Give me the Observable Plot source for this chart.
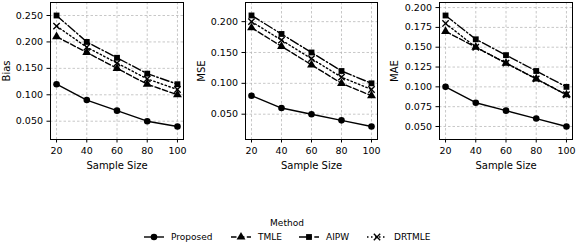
<!DOCTYPE html>
<html>
<head>
<meta charset="utf-8">
<script src="https://cdn.jsdelivr.net/npm/d3@7"></script>
<script src="https://cdn.jsdelivr.net/npm/@observablehq/plot@0.6"></script>
<style>
  html, body { margin: 0; padding: 0; background: white; }
  #wrap { position: relative; width: 576px; height: 247px; overflow: hidden; font-family: "DejaVu Sans", sans-serif; }
  #wrap svg { position: absolute; top: 0; }
  g[aria-label="x-axis label"] text, g[aria-label="y-axis label"] text { font-size: 10px; }
</style>
</head>
<body>
<div id="wrap"></div>
<script>
// ---- data ----
const sampleSizes = [20, 40, 60, 80, 100];
const methods = ["Proposed", "TMLE", "AIPW", "DRTMLE"];

const biasProposed = [0.12, 0.09, 0.07, 0.05, 0.04];
const biasTMLE     = [0.21, 0.18, 0.15, 0.12, 0.10];
const biasAIPW     = [0.25, 0.20, 0.17, 0.14, 0.12];
const biasDRTMLE   = [0.23, 0.19, 0.16, 0.13, 0.11];

const mseProposed = [0.08, 0.06, 0.05, 0.04, 0.03];
const mseTMLE     = [0.19, 0.16, 0.13, 0.10, 0.08];
const mseAIPW     = [0.21, 0.18, 0.15, 0.12, 0.10];
const mseDRTMLE   = [0.20, 0.17, 0.14, 0.11, 0.09];

const maeProposed = [0.10, 0.08, 0.07, 0.06, 0.05];
const maeTMLE     = [0.17, 0.15, 0.13, 0.11, 0.09];
const maeAIPW     = [0.19, 0.16, 0.14, 0.12, 0.10];
const maeDRTMLE   = [0.18, 0.15, 0.13, 0.11, 0.09];

const biasTicks = [0.05, 0.10, 0.15, 0.20, 0.25];
const mseTicks  = [0.05, 0.10, 0.15, 0.20];
const maeTicks  = [0.05, 0.075, 0.10, 0.125, 0.15, 0.175, 0.20];

// ---- styles ----
const dash = {Proposed: null, TMLE: "5.5,2.4", AIPW: "9,2.4,1.5,2.4", DRTMLE: "1.5,2.5"};
const symbolOf = {Proposed: "circle", TMLE: "triangle", AIPW: "square", DRTMLE: "times"};

function table(series) {
  const rows = [];
  methods.forEach((m, i) => series[i].forEach((v, j) => rows.push({method: m, n: sampleSizes[j], v})));
  return rows;
}

const panels = [
  {label: "Bias", series: [biasProposed, biasTMLE, biasAIPW, biasDRTMLE], ticks: biasTicks,
   domain: [0.0154, 0.2746], left: 0, width: 190, ml: 50, mr: 7, lo: 48},
  {label: "MSE", series: [mseProposed, mseTMLE, mseAIPW, mseDRTMLE], ticks: mseTicks,
   domain: [0.009, 0.231], left: 190, width: 190, ml: 55, mr: 3, lo: 48},
  {label: "MAE", series: [maeProposed, maeTMLE, maeAIPW, maeDRTMLE], ticks: maeTicks,
   domain: [0.0336, 0.2064], left: 380, width: 196, ml: 59, mr: 4, lo: 49}
];

const wrap = document.getElementById("wrap");

panels.forEach(p => {
  const data = table(p.series);
  const marks = [
    Plot.gridX(sampleSizes, {stroke: "#b0b0b0", strokeOpacity: 0.7, strokeDasharray: "2.5,2"}),
    Plot.gridY(p.ticks, {stroke: "#b0b0b0", strokeOpacity: 0.7, strokeDasharray: "2.5,2"}),
    Plot.frame({stroke: "black", strokeWidth: 1}),
    Plot.axisX(sampleSizes, {tickSize: 3.5, tickPadding: 4, label: "Sample Size", labelAnchor: "center", labelArrow: "none", labelOffset: 29}),
    Plot.axisY(p.ticks, {tickSize: 3.5, tickPadding: 4, tickFormat: d3.format(".3f"), label: p.label, labelAnchor: "center", labelArrow: "none", labelOffset: p.lo})
  ];
  methods.forEach(m => {
    const d = data.filter(r => r.method === m);
    marks.push(Plot.line(d, {x: "n", y: "v", stroke: "black", strokeWidth: 1.4, strokeDasharray: dash[m]}));
    if (symbolOf[m] === "times") {
      marks.push(Plot.dot(d, {x: "n", y: "v", symbol: "times", r: 3, stroke: "black", strokeWidth: 1.4, fill: "none"}));
    } else {
      marks.push(Plot.dot(d, {x: "n", y: "v", symbol: symbolOf[m], r: 3.3, fill: "black", stroke: "none"}));
    }
  });
  const svg = Plot.plot({
    width: p.width, height: 175,
    marginLeft: p.ml, marginRight: p.mr, marginTop: 2, marginBottom: 36,
    x: {domain: [16, 104]},
    y: {domain: p.domain},
    style: {fontFamily: "DejaVu Sans", fontSize: "9.5px", background: "transparent", color: "black", overflow: "visible"},
    marks
  });
  svg.style.left = p.left + "px";
  wrap.appendChild(svg);
});

// ---- legend ----
const legendX = {Proposed: 144, TMLE: 231, AIPW: 299, DRTMLE: 367};
const lg = d3.create("svg").attr("width", 576).attr("height", 247)
  .style("left", "0px").style("font-family", "DejaVu Sans").style("font-size", "9px");
lg.append("text").attr("x", 287).attr("y", 226).attr("text-anchor", "middle").text("Method");
methods.forEach(m => {
  const x0 = legendX[m], y0 = 237;
  const g = lg.append("g");
  g.append("line").attr("x1", x0).attr("x2", x0 + 20).attr("y1", y0).attr("y2", y0)
    .attr("stroke", "black").attr("stroke-width", 1.4).attr("stroke-dasharray", dash[m]);
  const sym = {circle: d3.symbolCircle, triangle: d3.symbolTriangle, square: d3.symbolSquare, times: d3.symbolTimes}[symbolOf[m]];
  const path = g.append("path").attr("transform", `translate(${x0 + 10},${y0})`)
    .attr("d", d3.symbol(sym, symbolOf[m] === "times" ? 28 : 34)());
  if (symbolOf[m] === "times") path.attr("fill", "none").attr("stroke", "black").attr("stroke-width", 1.4);
  else path.attr("fill", "black");
  g.append("text").attr("x", x0 + 27).attr("y", y0).attr("dy", "0.35em").text(m);
});
wrap.appendChild(lg.node());
</script>
</body>
</html>
